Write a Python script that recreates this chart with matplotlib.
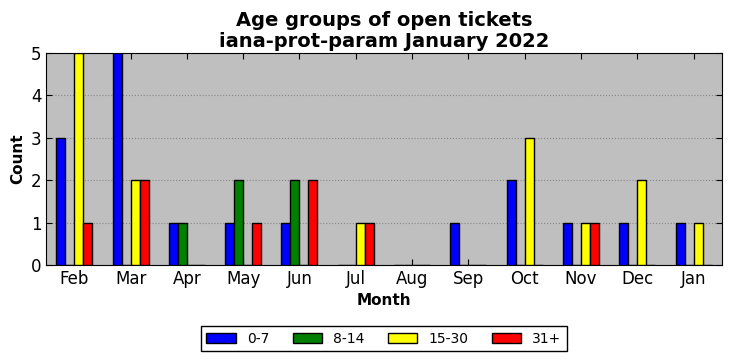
import matplotlib
matplotlib.use("Agg")
import matplotlib.pyplot as plt
import numpy as np

months = ["Feb", "Mar", "Apr", "May", "Jun", "Jul", "Aug", "Sep", "Oct", "Nov", "Dec", "Jan"]
labels = ["0-7", "8-14", "15-30", "31+"]
colors = ["blue", "green", "yellow", "red"]
age_0_7 = [3, 5, 1, 1, 1, 0, 0, 1, 2, 1, 1, 1]
age_8_14 = [0, 0, 1, 2, 2, 0, 0, 0, 0, 0, 0, 0]
age_15_30 = [5, 2, 0, 0, 0, 1, 0, 0, 3, 1, 2, 1]
age_31 = [1, 2, 0, 1, 2, 1, 0, 0, 0, 1, 0, 0]
series = [age_0_7, age_8_14, age_15_30, age_31]


def main():
    fig = plt.figure(figsize=(7.32, 3.61), dpi=100)
    ax = fig.add_axes([0.063, 0.266, 0.923, 0.587])
    ax.set_facecolor("#bfbfbf")
    x = np.arange(len(months))
    width = 0.16
    for i, (vals, lab, col) in enumerate(zip(series, labels, colors)):
        ax.bar(x + (i - 1.5) * width, vals, width, color=col, edgecolor="black",
               linewidth=1, label=lab, zorder=3)
    ax.set_xlim(-0.5, 11.5)
    ax.set_ylim(0, 5)
    ax.set_xticks(x)
    ax.set_xticklabels(months, fontsize=12)
    ax.set_yticks(range(6))
    ax.tick_params(axis="y", labelsize=12)
    ax.tick_params(direction="in", top=True, right=True, length=4)
    ax.yaxis.grid(True, linestyle=":", color="#888888", linewidth=0.8, zorder=0)
    ax.set_axisbelow(True)
    ax.set_xlabel("Month", fontsize=11, fontweight="bold")
    ax.set_ylabel("Count", fontsize=11, fontweight="bold")
    ax.set_title("Age groups of open tickets\niana-prot-param January 2022",
                 fontsize=14, fontweight="bold", linespacing=1.15, pad=4.5)
    ax.legend(loc="upper center", bbox_to_anchor=(0.5, -0.256), ncol=4,
              fontsize=10, fancybox=False, edgecolor="black", framealpha=1,
              handlelength=2.1, columnspacing=1.7)
    fig.savefig("out.png", dpi=100)


if __name__ == "__main__":
    main()
